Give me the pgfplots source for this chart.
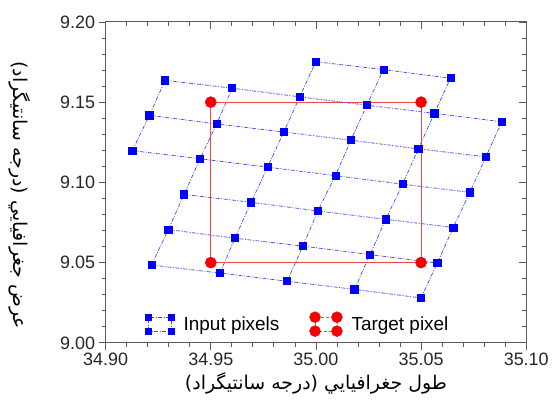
\documentclass[border=0pt]{standalone}
\usepackage{pgfplots}
\pgfplotsset{compat=1.18}
\usepackage{fontspec}
\setmainfont{Liberation Sans}
\TeXXeTstate=1
\newfontfamily\arabicfont[Script=Arabic]{DejaVu Sans}
\definecolor{gridblue}{RGB}{70,70,235}
\definecolor{ptblue}{RGB}{0,0,255}
\definecolor{tred}{RGB}{240,70,70}
\definecolor{cred}{RGB}{245,0,0}
\definecolor{axgray}{RGB}{90,90,90}
\tikzset{gridline/.style={gridblue, line width=0.7pt, dash pattern=on 4pt off 1.5pt on 1pt off 1.5pt}}
\begin{document}
\begin{tikzpicture}
\pgfplotsset{
  common/.style={
    scale only axis, width=422pt, height=322pt,
    xmin=34.90, xmax=35.10, ymin=9.00, ymax=9.20,
    xtick={34.90,34.95,...,35.10}, ytick={9.00,9.05,...,9.20},
    minor x tick num=4, minor y tick num=4,
    major tick length=7pt, minor tick length=4pt,
    axis line style={axgray, line width=1pt},
    every tick/.style={axgray, line width=0.8pt},
  }
}
\begin{axis}[common,
  xtick pos=top, ytick pos=right, tick align=inside,
  xticklabels={}, yticklabels={}]
\end{axis}
\begin{axis}[common,
  xtick pos=bottom, ytick pos=left, tick align=outside,
  /pgf/number format/assume math mode=true,
  xticklabel style={/pgf/number format/.cd, fixed, fixed zerofill, precision=2},
  yticklabel style={/pgf/number format/.cd, fixed, fixed zerofill, precision=2},
  tick label style={font=\fontsize{18}{20}\selectfont, text=black!85},
  xlabel={\arabicfont\beginR طول جغرافيايي (درجه سانتيگراد)\endR},
  ylabel={\arabicfont\beginR عرض جغرافيايي (درجه سانتيگراد)\endR},
  label style={font=\fontsize{19}{22}\selectfont},
  xlabel style={at={(axis description cs:0.5,-0.125)}, anchor=center},
  ylabel style={at={(axis description cs:-0.204,0.46)}, anchor=center, rotate=180},
  legend columns=2,
  legend style={at={(rel axis cs:0.085,0.012)}, anchor=south west, draw=none, fill=none,
    font=\fontsize{19}{21}\selectfont,
    /tikz/every odd column/.append style={column sep=7pt},
    /tikz/every even column/.append style={column sep=28pt}},
]
\coordinate (SW) at (rel axis cs:0,0);
\coordinate (NE) at (rel axis cs:1,1);
% columns
\addplot[gridline, forget plot] coordinates {(34.9127,9.1198)(34.9208,9.1418)(34.9283,9.1636)};
\addplot[gridline, forget plot] coordinates {(34.9218,9.0485)(34.9298,9.0706)(34.9373,9.0925)(34.9449,9.1147)(34.9528,9.1364)(34.9602,9.1587)};
\addplot[gridline, forget plot] coordinates {(34.9544,9.0435)(34.9615,9.0652)(34.9692,9.0876)(34.9770,9.1095)(34.9847,9.1314)(34.9923,9.1533)(34.9999,9.1752)};
\addplot[gridline, forget plot] coordinates {(34.9863,9.0384)(34.9938,9.0603)(35.0009,9.0822)(35.0093,9.1042)(35.0166,9.1263)(35.0242,9.1481)(35.0321,9.1703)};
\addplot[gridline, forget plot] coordinates {(35.0183,9.0333)(35.0257,9.0550)(35.0332,9.0770)(35.0412,9.0989)(35.0487,9.1209)(35.0563,9.1430)(35.0640,9.1649)};
\addplot[gridline, forget plot] coordinates {(35.0500,9.0280)(35.0577,9.0497)(35.0653,9.0719)(35.0732,9.0938)(35.0808,9.1159)(35.0884,9.1378)};
% red target
\addplot[tred, line width=1.1pt, forget plot] coordinates {(34.95,9.15)(35.05,9.15)(35.05,9.05)(34.95,9.05)(34.95,9.15)};
% rows with markers
\pgfplotsset{rowstyle/.style={gridline, mark=square*, mark size=3.6pt, mark options={solid, ptblue, fill=ptblue}, forget plot}}
\addplot[rowstyle] coordinates {(34.9218,9.0485)(34.9544,9.0435)(34.9863,9.0384)(35.0183,9.0333)(35.0500,9.0280)};
\addplot[rowstyle] coordinates {(34.9298,9.0706)(34.9615,9.0652)(34.9938,9.0603)(35.0257,9.0550)(35.0577,9.0497)};
\addplot[rowstyle] coordinates {(34.9373,9.0925)(34.9692,9.0876)(35.0009,9.0822)(35.0332,9.0770)(35.0653,9.0719)};
\addplot[rowstyle] coordinates {(34.9127,9.1198)(34.9449,9.1147)(34.9770,9.1095)(35.0093,9.1042)(35.0412,9.0989)(35.0732,9.0938)};
\addplot[rowstyle] coordinates {(34.9208,9.1418)(34.9528,9.1364)(34.9847,9.1314)(35.0166,9.1263)(35.0487,9.1209)(35.0808,9.1159)};
\addplot[rowstyle] coordinates {(34.9283,9.1636)(34.9602,9.1587)(34.9923,9.1533)(35.0242,9.1481)(35.0563,9.1430)(35.0884,9.1378)};
\addplot[rowstyle] coordinates {(34.9999,9.1752)(35.0321,9.1703)(35.0640,9.1649)};
\addplot[only marks, mark=*, mark size=5.6pt, mark options={cred, fill=cred}, forget plot] coordinates {(34.95,9.15)(35.05,9.15)(35.05,9.05)(34.95,9.05)};
% legend
\addlegendimage{legend image code/.code={
  \draw[gridline] (0pt,-7pt) rectangle (23pt,7pt);
  \foreach \px/\py in {0/-7,23/-7,0/7,23/7}{\fill[ptblue] (\px pt-3.4pt,\py pt-3.4pt) rectangle ++(6.8pt,6.8pt);}
}}
\addlegendentry{Input pixels}
\addlegendimage{legend image code/.code={
  \draw[tred, densely dashed, line width=0.8pt] (0pt,-7pt) rectangle (22pt,7pt);
  \foreach \px/\py in {0/-7,22/-7,0/7,22/7}{\fill[cred] (\px pt,\py pt) circle (5.5pt);}
}}
\addlegendentry{Target pixel}
\end{axis}
\path (SW) ++(-106pt,-60pt);
\path (NE) ++(24pt,22pt);
\end{tikzpicture}
\end{document}
